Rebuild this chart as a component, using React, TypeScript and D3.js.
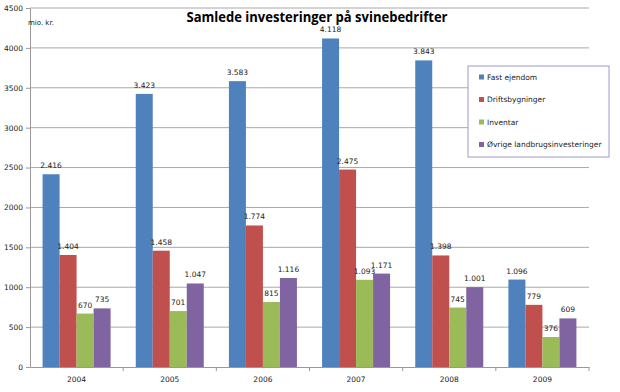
import React, { useEffect, useRef } from 'react';
import * as d3 from 'd3';

const years = ['2004', '2005', '2006', '2007', '2008', '2009'];
const seriesNames = ['Fast ejendom', 'Driftsbygninger', 'Inventar', 'Øvrige landbrugsinvesteringer'];
const fastEjendom = [2416, 3423, 3583, 4118, 3843, 1096];
const driftsbygninger = [1404, 1458, 1774, 2475, 1398, 779];
const inventar = [670, 701, 815, 1093, 745, 376];
const oevrige = [735, 1047, 1116, 1171, 1001, 609];
const yTicks = [0, 500, 1000, 1500, 2000, 2500, 3000, 3500, 4000, 4500];
const colors = ['#4F81BD', '#C0504D', '#9BBB59', '#8064A2'];

const fmt = (v: number) => d3.format(',')(v).replace(/,/g, '.');

const App: React.FC = () => {
  const svgRef = useRef<SVGSVGElement>(null);

  useEffect(() => {
    if (!svgRef.current) return;
    const svg = d3.select(svgRef.current);
    svg.selectAll('*').remove();

    const left = 30, right = 589, top = 8, bottom = 367;
    const font = 'DejaVu Sans, sans-serif';

    const x0 = d3.scaleBand().domain(years).range([left, right]);
    const bw = x0.bandwidth();
    const x1 = d3.scaleBand().domain(seriesNames).range([bw * 0.135, bw * 0.865]);
    const y = d3.scaleLinear().domain([0, 4500]).range([bottom, top]);

    const allSeries = [fastEjendom, driftsbygninger, inventar, oevrige];
    const rows = years.map((yr, i) => ({ year: yr, values: allSeries.map(s => s[i]) }));

    // gridlines
    svg.append('g')
      .selectAll('line')
      .data(yTicks.filter(t => t > 0))
      .join('line')
      .attr('x1', left).attr('x2', right)
      .attr('y1', d => y(d)).attr('y2', d => y(d))
      .attr('stroke', '#a8a8a8').attr('stroke-width', 1);

    // y axis
    const yAxis = svg.append('g')
      .attr('transform', `translate(${left},0)`)
      .call(d3.axisLeft(y).tickValues(yTicks).tickSize(4).tickSizeOuter(0).tickPadding(3).tickFormat(d => String(d)));
    yAxis.select('.domain').attr('stroke', '#999');
    yAxis.selectAll('.tick line').attr('stroke', '#999');
    yAxis.selectAll('text').attr('font-family', font).attr('font-size', 7.5).attr('fill', '#222');

    // bars
    const groups = svg.append('g')
      .selectAll('g')
      .data(rows)
      .join('g')
      .attr('transform', d => `translate(${x0(d.year)},0)`);

    groups.selectAll('rect')
      .data(d => d.values.map((v, k) => ({ key: seriesNames[k], v, k })))
      .join('rect')
      .attr('x', d => x1(d.key) || 0)
      .attr('y', d => y(d.v))
      .attr('width', x1.bandwidth())
      .attr('height', d => y(0) - y(d.v))
      .attr('fill', d => colors[d.k]);

    groups.selectAll('text')
      .data(d => d.values.map((v, k) => ({ key: seriesNames[k], v, k })))
      .join('text')
      .attr('x', d => (x1(d.key) || 0) + x1.bandwidth() / 2)
      .attr('y', d => y(d.v) - 6)
      .attr('text-anchor', 'middle')
      .attr('font-family', font)
      .attr('font-size', 7.5)
      .attr('fill', '#222')
      .text(d => fmt(d.v));

    // x axis
    const xAxis = svg.append('g')
      .attr('transform', `translate(0,${bottom})`)
      .call(d3.axisBottom(x0).tickSize(0).tickSizeOuter(0).tickPadding(10));
    xAxis.select('.domain').attr('stroke', '#999');
    xAxis.selectAll('text').attr('font-family', font).attr('font-size', 7.5).attr('fill', '#222');
    svg.append('g')
      .selectAll('line')
      .data(years)
      .join('line')
      .attr('x1', d => (x0(d) || 0) + bw).attr('x2', d => (x0(d) || 0) + bw)
      .attr('y1', bottom).attr('y2', bottom + 4)
      .attr('stroke', '#999');

    // title
    svg.append('text')
      .attr('x', 317).attr('y', 22)
      .attr('text-anchor', 'middle')
      .attr('font-family', 'Open Sans, sans-serif')
      .attr('font-weight', 'bold')
      .attr('font-size', 14.5)
      .attr('textLength', 261)
      .attr('lengthAdjust', 'spacingAndGlyphs')
      .text('Samlede investeringer på svinebedrifter');

    svg.append('text')
      .attr('x', 28).attr('y', 25)
      .attr('font-family', font)
      .attr('font-size', 7)
      .attr('fill', '#222')
      .text('mio. kr.');

    // legend
    const lg = svg.append('g');
    lg.append('rect')
      .attr('x', 468).attr('y', 66).attr('width', 141).attr('height', 91)
      .attr('fill', '#fff').attr('stroke', '#9a9acc');
    const items = lg.selectAll('g')
      .data(seriesNames)
      .join('g')
      .attr('transform', (d, i) => `translate(479,${77 + i * 22.5})`);
    items.append('rect')
      .attr('x', 0).attr('y', -2.5).attr('width', 5).attr('height', 5)
      .attr('fill', (d, i) => colors[i]);
    items.append('text')
      .attr('x', 8).attr('y', 0).attr('dy', '0.35em')
      .attr('font-family', font)
      .attr('font-size', 7.5)
      .attr('fill', '#222')
      .text(d => d);
  }, []);

  return (
    <div style={{ position: 'absolute', left: 0, top: 0, width: 620, height: 392 }}>
      <svg ref={svgRef} width={620} height={392} style={{ display: 'block', background: '#fff' }} />
    </div>
  );
};

export default App;
